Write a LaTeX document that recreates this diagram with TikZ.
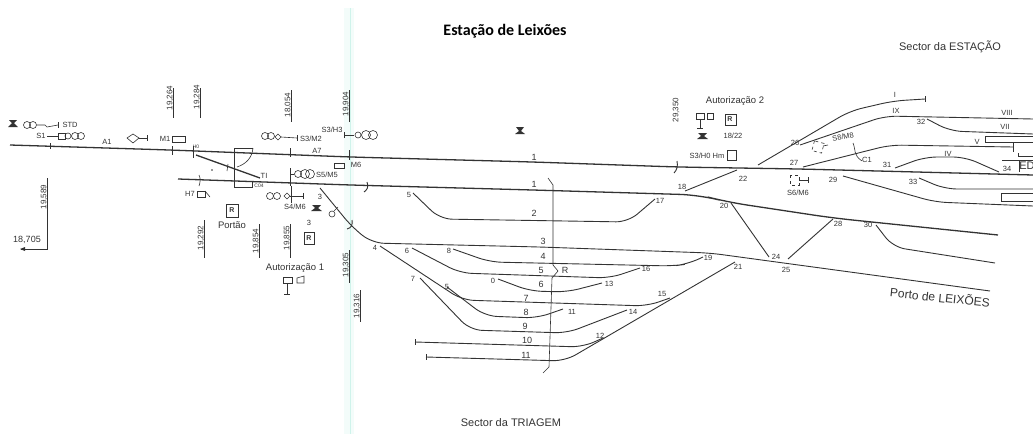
\documentclass[tikz,border=0pt]{standalone}
\usepackage{fontspec}
\setmainfont{Liberation Sans}
\newfontfamily\titlefont{Carlito}
\definecolor{ink}{HTML}{333333}
\definecolor{scan}{HTML}{CFF3EB}
\definecolor{scanhalo}{HTML}{F3FCFA}
\tikzset{
  trk/.style={draw=ink,line width=0.9,rounded corners=12pt},
  mainl/.style={draw=ink,line width=1.3,rounded corners=20pt},
  thin/.style={draw=ink,line width=0.6},
  lbl/.style={text=ink,font=\fontsize{7.5}{8}\selectfont,inner sep=0},
  num/.style={text=ink,font=\fontsize{9}{10}\selectfont,inner sep=0},
  km/.style={text=ink,font=\fontsize{8}{9}\selectfont,inner sep=0,rotate=90},
  sect/.style={text=ink,font=\fontsize{11}{12}\selectfont,inner sep=0},
  auth/.style={text=ink,font=\fontsize{9.5}{11}\selectfont,inner sep=0},
}
\begin{document}
\begin{tikzpicture}[x=1pt,y=-1pt]
\useasboundingbox (0,0) rectangle (1033,434);
\draw[scanhalo,line width=10] (349,8) -- (349,434);
\draw[scan,line width=1.4] (350.5,8) -- (350.5,434);
\node[inner sep=0,font=\titlefont\bfseries\fontsize{16}{18}\selectfont] (title) at (505,31) {Estação de Leixões};
\node[sect] (secest) at (950,47) {Sector da ESTAÇÃO};
\node[sect] (sectri) at (511,423) {Sector da TRIAGEM};
\node[sect,rotate=-6,font=\fontsize{12}{13}\selectfont] (porto) at (940,297) {Porto de LEIXÕES};
% through lines
\draw[mainl] (10,145) -- (170,150) -- (350,157) -- (533,162) -- (677,167) -- (800,169) -- (1033,175);
\draw[mainl] (178,179) -- (350,185) -- (533,190) -- (700,195) -- (727,202) -- (833,218) -- (998,235);
\draw[trk] (320,188) -- (352,227) -- (372,243) -- (540,247) -- (710,253) -- (990,291);
% yard
\draw[trk] (413,193) -- (440,219) -- (628,222) -- (655,199);
\draw[trk] (453,249) -- (490,262) -- (673,266) -- (688,264) -- (703,257);
\draw[trk] (412,248) -- (460,273) -- (610,278) -- (640,268);
\draw[trk] (498,279) -- (530,291) -- (567,292) -- (602,283);
\draw[trk] (380,246) -- (462,300) -- (647,306) -- (670,298);
\draw[trk] (447,287) -- (485,316) -- (537,318) -- (563,309);
\draw[trk] (420,278) -- (470,330) -- (567,333) -- (627,310);
\draw[trk] (415,342) -- (583,347) -- (603,338);
\draw[trk] (415,339) -- (415,345);
\draw[trk] (426,357) -- (565,361) -- (735,262);
\draw[trk] (426,354) -- (426,360);
\draw[thin] (548,178) -- (553,185) -- (553,265) -- (558,271) -- (552,278) -- (549,367) -- (543,373);
% right fan
\draw[trk] (758,165) -- (850,111) -- (893,101) -- (925,99);
\draw[trk] (925,96) -- (925,102);
\draw[trk] (800,145) -- (885,116) -- (1033,119);
\draw[trk] (927,119) -- (950,131) -- (1033,134);
\draw[trk] (803,167) -- (890,145) -- (1013,147);
\draw[trk] (1013,143) -- (1013,152);
\draw[thin] (1018,153) -- (1018,156) -- (1033,156);
\draw[thin] (1033,136) -- (985,136) -- (985,142) -- (1033,142);
\draw[trk] (895,168) -- (925,157) -- (965,157) -- (999,172);
\draw[trk] (919,178) -- (945,189) -- (1033,189);
\draw[trk] (843,176) -- (935,202) -- (1033,206);
\draw[thin] (1033,193) -- (1001,193) -- (1001,201) -- (1033,201);
\draw[thin] (1002,160) -- (1033,160);
\draw[thin] (1019,160) -- (1019,172);
\draw[trk] (685,191) -- (737,170);
\draw[trk] (731,203) -- (769,257);
\draw[trk] (788,259) -- (833,219);
\draw[trk] (876,225) -- (893,247) -- (995,263);
\draw[thin] (853,143) .. controls (856,150) and (853,155) .. (862,161);
% left details
\draw[trk] (50,143) -- (50,149);
\draw[thin] (172,146) -- (172,155);
\draw[thin] (193,146) -- (193,158);
\draw[draw=ink,line width=1.3] (196,155) -- (260,178);
\draw[thin] (228,164) -- (227,171);
\draw[thin] (253,148) -- (234,148) -- (234,187) -- (252,187) -- (252,182);
\draw[thin] (253,148) .. controls (252,158) and (246,164) .. (237,167);
\fill[ink] (212,170) circle (0.9);
\draw[thin] (199,175) .. controls (201,179) and (200,183) .. (199,186);
\draw[thin] (290,148) -- (290,157);
\draw[thin] (290,168) -- (290,186);
\draw[thin] (349,150) -- (349,160);
\draw[trk] (367,182) .. controls (369,187) and (367,190) .. (364,192);
\draw[trk] (677,161) .. controls (678,166) and (677,170) .. (674,173);
\draw[trk] (352,220) .. controls (353,225) and (351,228) .. (347,229);
% km marks
\node[km] (k1) at (170,98) {19,264};
\draw[thin] (173,88) -- (173,118);
\node[km] (k2) at (197,97) {19,284};
\draw[thin] (200,88) -- (200,118);
\node[km] (k3) at (288,105) {18,054};
\draw[thin] (291,90) -- (291,122);
\node[km] (k4) at (346,104) {19,904};
\draw[thin] (349,90) -- (349,122);
\node[km] (k5) at (44,197) {19,589};
\draw[thin] (47,178) -- (47,249) -- (21,249);
\fill[ink] (20,249) -- (25,247) -- (25,251) -- cycle;
\node[text=ink,inner sep=0,font=\fontsize{9}{10}\selectfont] (k6) at (27,240) {18,705};
\node[km] (k7) at (201,238) {19,292};
\draw[thin] (204,220) -- (204,258);
\node[km] (k8) at (256,241) {19,854};
\draw[thin] (259,224) -- (259,258);
\node[km] (k9) at (287,238) {19,855};
\draw[thin] (290,224) -- (290,258);
\node[km] (k10) at (346,265) {19,305};
\draw[thin] (349,250) -- (349,283);
\node[km] (k11) at (357,306) {19,316};
\draw[thin] (360,290) -- (360,322);
\node[km] (k12) at (676,110) {29,350};
% signals
\fill[ink] (9,120) -- (17,120) -- (14,123) -- (18,127) -- (8,127) -- (12,123) -- cycle;
\fill[ink] (516,127) -- (524,127) -- (521,131) -- (525,134) -- (515,134) -- (519,131) -- cycle;
\fill[ink] (312,205) -- (321,205) -- (318,208) -- (322,211) -- (311,211) -- (315,208) -- cycle;
\fill[ink] (698,133) -- (707,133) -- (704,136) -- (708,139) -- (697,139) -- (701,136) -- cycle;
\draw[thin] (27,125) circle (3.5);
\draw[thin] (33,125) circle (3.5);
\draw[thin] (37,125) -- (45,125) -- (47,127) -- (58,125);
\draw[thin] (58,122) -- (58,128);
\node[lbl] (std) at (70,125) {STD};
\node[lbl] (s1) at (41,136) {S1};
\draw[thin] (47,136) -- (58,136);
\draw[thin] (58,133) rectangle (65,139);
\draw[thin] (68,136) circle (3);
\draw[thin] (75,136) circle (3.5);
\draw[thin] (81,136) circle (3.5);
\node[lbl] (a1) at (107,142) {A1};
\draw[thin] (133,134) -- (139,138) -- (133,143) -- (127,138) -- cycle;
\draw[thin] (139,138) -- (147,138);
\draw[thin] (147,135) -- (147,141);
\node[lbl] (m1) at (165,139) {M1};
\draw[thin] (172,136) rectangle (185,142);
\node[lbl,font=\fontsize{5}{6}\selectfont] (h0) at (196,147) {H0};
\node[lbl] (ti) at (264,176) {TI};
\node[lbl,font=\fontsize{5}{6}\selectfont] (c04) at (259,186) {C04};
\node[lbl] (h7) at (190,194) {H7};
\draw[thin] (197,191) rectangle (205,197);
\draw[thin] (205,191) -- (210,197);
\draw[thin] (265,136) circle (3.5);
\draw[thin] (271,136) circle (3.5);
\draw[thin] (278,134) -- (281,137) -- (278,140) -- (275,137) -- cycle;
\draw[thin] (281,137) -- (297,138);
\draw[thin] (297,135) -- (297,141);
\node[lbl] (s3m2) at (311,139) {S3/M2};
\node[lbl] (a7) at (317,151) {A7};
\node[lbl] (s3h3) at (332,130) {S3/H3};
\draw[thin] (344,132) -- (344,138);
\draw[thin] (344,135) -- (354,135);
\draw[thin] (358,135) circle (3);
\draw[thin] (366,135) circle (4.5);
\draw[thin] (373,135) circle (4.5);
\draw[thin] (334,163) rectangle (344,168);
\node[lbl] (m6) at (356,165) {M6};
\draw[thin] (290,171) -- (290,177);
\draw[thin] (290,174) -- (294,174);
\draw[thin] (298,174) circle (3.5);
\draw[thin] (305,174) circle (4.5);
\draw[thin] (310,174) circle (4.5);
\node[lbl] (s5m5) at (327,175) {S5/M5};
\draw[thin] (270,196) circle (3.5);
\draw[thin] (277,196) circle (3.5);
\draw[thin] (287,193) -- (290,196) -- (287,199) -- (284,196) -- cycle;
\draw[thin] (290,196) -- (303,196);
\draw[thin] (303,193) -- (303,199);
\draw[thin] (291,186) -- (291,203);
\node[lbl] (s4m6) at (295,207) {S4/M6};
\node[lbl] (n3a) at (320,197) {3};
\draw[thin] (332,214) circle (3);
\draw[thin] (334,211) -- (338,207);
\draw[thin] (226,204) rectangle (238,217);
\node[lbl,font=\bfseries\fontsize{7}{8}\selectfont] (rbox1) at (232,210) {R};
\node[auth] (portao) at (232,225) {Portão};
\node[lbl] (n3b) at (309,223) {3};
\draw[thin] (304,232) rectangle (314,244);
\node[lbl,font=\bfseries\fontsize{7}{8}\selectfont] (rbox2) at (309,238) {R};
\node[auth] (aut1) at (295,268) {Autorização 1};
\draw[thin] (283,277) rectangle (292,283);
\draw[thin] (297,278) -- (304,276) -- (304,283) -- (297,283) -- cycle;
\draw[thin] (287,283) -- (287,294);
\draw[thin] (284,294) -- (290,294);
\node[auth] (aut2) at (735,101) {Autorização 2};
\draw[thin] (696,113) rectangle (704,119);
\draw[thin] (707,113) -- (713,113) -- (713,119) -- (707,119) -- cycle;
\draw[thin] (700,119) -- (700,128);
\draw[thin] (697,128) -- (703,128);
\draw[thin] (725,114) rectangle (736,125);
\node[lbl,font=\bfseries\fontsize{7}{8}\selectfont] (rbox3) at (730,119) {R};
\node[lbl] (n1822) at (733,136) {18/22};
\node[lbl] (s3h0) at (707,156) {S3/H0 Hm};
\draw[thin] (727,150) rectangle (736,160);
\draw[thin,dashed,rotate around={-15:(818,147)}] (813,142) rectangle (823,152);
\draw[thin] (823,146) -- (828,145);
\node[lbl,rotate=12] (s8m8) at (843,137) {S8/M8};
\draw[thin,dashed] (790,175) rectangle (799,185);
\draw[thin] (799,180) -- (808,180);
\draw[thin] (808,177) -- (808,183);
\node[lbl] (s6m6) at (798,193) {S6/M6};
\node[text=ink,inner sep=0,font=\fontsize{11}{12}\selectfont] (ed) at (1027,166) {ED};
% yard numbers
\node[num] (t1a) at (534,157) {1};
\node[num] (t1b) at (534,184) {1};
\node[num] (t2) at (534,213) {2};
\node[num] (t3) at (543,241) {3};
\node[num] (t4) at (543,256) {4};
\node[num] (t5) at (541,270) {5};
\node[num] (t6) at (541,284) {6};
\node[num] (t7) at (526,298) {7};
\node[num] (t8) at (526,312) {8};
\node[num] (t9) at (525,326) {9};
\node[num] (t10) at (527,340) {10};
\node[num] (t11) at (526,355) {11};
\node[num] (r) at (565,270) {R};
\node[lbl] (p5) at (409,195) {5};
\node[lbl] (p17) at (660,201) {17};
\node[lbl] (p4) at (375,248) {4};
\node[lbl] (p6) at (407,251) {6};
\node[lbl] (p8) at (449,251) {8};
\node[lbl] (p0) at (493,281) {0};
\node[lbl] (p16) at (646,269) {16};
\node[lbl] (p13) at (609,284) {13};
\node[lbl] (p7) at (413,279) {7};
\node[lbl] (p5b) at (447,287) {5};
\node[lbl] (p11) at (572,312) {11};
\node[lbl] (p14) at (633,312) {14};
\node[lbl] (p15) at (662,294) {15};
\node[lbl] (p12) at (600,336) {12};
\node[lbl] (p18) at (682,187) {18};
\node[lbl] (p22) at (743,179) {22};
\node[lbl] (p26) at (795,143) {26};
\node[lbl] (p27) at (794,163) {27};
\node[lbl] (p29) at (833,180) {29};
\node[lbl] (p20) at (724,206) {20};
\node[lbl] (p24) at (776,257) {24};
\node[lbl] (p25) at (786,270) {25};
\node[lbl] (p28) at (838,224) {28};
\node[lbl] (p30) at (868,225) {30};
\node[lbl] (p19) at (708,258) {19};
\node[lbl] (p21) at (738,267) {21};
\node[lbl] (p31) at (887,165) {31};
\node[lbl] (p33) at (913,182) {33};
\node[lbl] (p32) at (921,122) {32};
\node[lbl] (p34) at (1007,169) {34};
\node[lbl] (c1) at (867,160) {C1};
\node[lbl] (ri) at (895,95) {I};
\node[lbl] (rix) at (896,111) {IX};
\node[lbl] (rviii) at (1007,113) {VIII};
\node[lbl] (rvii) at (1005,127) {VII};
\node[lbl] (rv) at (977,142) {V};
\node[lbl] (riv) at (948,154) {IV};
\end{tikzpicture}
\end{document}
